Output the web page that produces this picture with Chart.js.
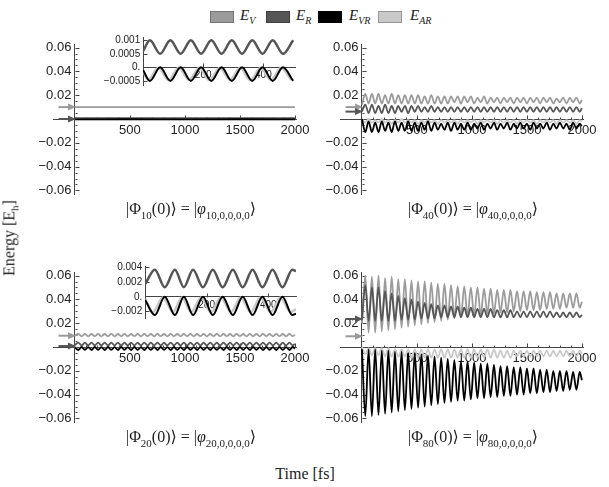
<!DOCTYPE html>
<html>
<head>
<meta charset="utf-8">
<script src="https://cdn.jsdelivr.net/npm/chart.js@4.4.1/dist/chart.umd.min.js"></script>
<style>
  body { margin: 0; background: #fff; }
  #page { position: relative; width: 609px; height: 487px; overflow: hidden; font-family: "Liberation Serif", "DejaVu Serif", serif; color: #222; }
  canvas { position: absolute; }
  .sw { position: absolute; top: 11px; width: 24px; height: 12px; box-sizing: border-box; border: 1px solid rgba(0,0,0,0.25); }
  .lt { position: absolute; top: 8px; font-size: 15px; font-style: italic; line-height: 1; white-space: nowrap; }
  .lt sub { font-size: 10px; line-height: 1; }
  .cap { position: absolute; font-size: 16px; line-height: 1; white-space: nowrap; transform: translate(-50%, -50%); }
  .cap sub { font-size: 11px; line-height: 1; }
</style>
</head>
<body>
<div id="page">
  <div class="sw" style="left:210px;background:#9b9b9b"></div><div class="lt" style="left:240px">E<sub>V</sub></div>
  <div class="sw" style="left:266px;background:#555555"></div><div class="lt" style="left:296px">E<sub>R</sub></div>
  <div class="sw" style="left:318px;background:#000000"></div><div class="lt" style="left:349px">E<sub>VR</sub></div>
  <div class="sw" style="left:378px;background:#c9c9c9"></div><div class="lt" style="left:410px">E<sub>AR</sub></div>

  <canvas id="p10"></canvas>
  <canvas id="p40"></canvas>
  <canvas id="p20"></canvas>
  <canvas id="p80"></canvas>
  <canvas id="i10"></canvas>
  <canvas id="i20"></canvas>

  <div class="cap" style="left:191px;top:211px">|Φ<sub>10</sub>(0)⟩ = |<i>φ</i><sub>10,0,0,0,0</sub>⟩</div>
  <div class="cap" style="left:473px;top:211px">|Φ<sub>40</sub>(0)⟩ = |<i>φ</i><sub>40,0,0,0,0</sub>⟩</div>
  <div class="cap" style="left:191px;top:439px">|Φ<sub>20</sub>(0)⟩ = |<i>φ</i><sub>20,0,0,0,0</sub>⟩</div>
  <div class="cap" style="left:473px;top:439px">|Φ<sub>80</sub>(0)⟩ = |<i>φ</i><sub>80,0,0,0,0</sub>⟩</div>
  <div class="cap" style="left:11px;top:238px;transform:translate(-50%,-50%) rotate(-90deg)">Energy [E<sub>h</sub>]</div>
  <div class="cap" style="left:305px;top:474px">Time [fs]</div>
</div>
<script>
// time grid of the main panels (fs), one point per half period
const TIME = [0, 30, 60, 90, 120, 150, 180, 210, 240, 270,
  300, 330, 360, 390, 420, 450, 480, 510, 540, 570,
  600, 630, 660, 690, 720, 750, 780, 810, 840, 870,
  900, 930, 960, 990, 1020, 1050, 1080, 1110, 1140, 1170,
  1200, 1230, 1260, 1290, 1320, 1350, 1380, 1410, 1440, 1470,
  1500, 1530, 1560, 1590, 1620, 1650, 1680, 1710, 1740, 1770,
  1800, 1830, 1860, 1890, 1920, 1950, 1980, 2000];

// |Phi_10> : almost flat
const TIME_10 = [0, 500, 1000, 1500, 2000];
const EV_10  = [0.0100, 0.0099, 0.0100, 0.0099, 0.0100];
const ER_10  = [0.0007, 0.0008, 0.0007, 0.0008, 0.0007];
const EVR_10 = [-0.0003, -0.0002, -0.0003, -0.0002, -0.0003];
const EAR_10 = [-0.0003, -0.0003, -0.0002, -0.0003, -0.0003];

// |Phi_40>
const EV_40 = [0.012, 0.021, 0.013, 0.021, 0.013, 0.021, 0.013, 0.020, 0.013, 0.021,
  0.013, 0.020, 0.013, 0.020, 0.013, 0.020, 0.013, 0.020, 0.013, 0.019,
  0.013, 0.020, 0.013, 0.019, 0.013, 0.019, 0.013, 0.019, 0.014, 0.019,
  0.013, 0.019, 0.014, 0.019, 0.013, 0.018, 0.014, 0.019, 0.013, 0.018,
  0.014, 0.018, 0.013, 0.018, 0.014, 0.018, 0.013, 0.018, 0.014, 0.018,
  0.013, 0.018, 0.014, 0.018, 0.013, 0.018, 0.014, 0.018, 0.013, 0.017,
  0.014, 0.018, 0.013, 0.018, 0.014, 0.018, 0.013, 0.016];
const ER_40 = [0.0065, 0.012, 0.005, 0.012, 0.005, 0.011, 0.005, 0.012, 0.005, 0.011,
  0.005, 0.011, 0.006, 0.011, 0.005, 0.011, 0.006, 0.011, 0.006, 0.010,
  0.006, 0.011, 0.006, 0.010, 0.006, 0.010, 0.006, 0.010, 0.006, 0.010,
  0.006, 0.010, 0.006, 0.010, 0.006, 0.010, 0.006, 0.010, 0.006, 0.010,
  0.006, 0.010, 0.006, 0.010, 0.006, 0.010, 0.006, 0.010, 0.006, 0.010,
  0.006, 0.010, 0.006, 0.010, 0.006, 0.010, 0.006, 0.010, 0.006, 0.010,
  0.006, 0.010, 0.006, 0.010, 0.006, 0.010, 0.006, 0.009];
const EVR_40 = [0.000, -0.011, -0.002, -0.011, -0.003, -0.011, -0.002, -0.010, -0.003, -0.011,
  -0.002, -0.010, -0.003, -0.010, -0.002, -0.010, -0.003, -0.010, -0.003, -0.009,
  -0.002, -0.010, -0.003, -0.009, -0.004, -0.009, -0.003, -0.010, -0.003, -0.009,
  -0.004, -0.009, -0.003, -0.009, -0.004, -0.008, -0.003, -0.009, -0.004, -0.008,
  -0.003, -0.009, -0.004, -0.008, -0.003, -0.009, -0.004, -0.008, -0.003, -0.008,
  -0.004, -0.009, -0.003, -0.008, -0.004, -0.008, -0.003, -0.009, -0.004, -0.008,
  -0.003, -0.008, -0.004, -0.009, -0.003, -0.008, -0.004, -0.006];
const EAR_40 = [0.000, -0.003, 0.000, -0.003, -0.001, -0.003, 0.000, -0.003, -0.001, -0.004,
  -0.001, -0.003, 0.000, -0.003, -0.001, -0.003, -0.001, -0.004, -0.001, -0.003,
  -0.001, -0.003, -0.001, -0.004, -0.001, -0.003, -0.001, -0.003, -0.001, -0.004,
  -0.001, -0.003, -0.001, -0.003, -0.001, -0.004, -0.001, -0.003, -0.001, -0.003,
  -0.001, -0.004, -0.001, -0.003, -0.001, -0.003, -0.001, -0.004, -0.001, -0.003,
  -0.001, -0.003, -0.001, -0.004, -0.001, -0.003, -0.001, -0.003, -0.001, -0.004,
  -0.001, -0.003, -0.001, -0.003, -0.001, -0.004, -0.001, -0.002];

// |Phi_20>
const EV_20 = [0.0095, 0.0110, 0.0090, 0.0110, 0.0090, 0.0109, 0.0091, 0.0110, 0.0090, 0.0109,
  0.0091, 0.0110, 0.0090, 0.0109, 0.0091, 0.0110, 0.0090, 0.0109, 0.0091, 0.0110,
  0.0090, 0.0110, 0.0091, 0.0109, 0.0090, 0.0110, 0.0091, 0.0109, 0.0090, 0.0110,
  0.0091, 0.0109, 0.0090, 0.0110, 0.0091, 0.0110, 0.0090, 0.0109, 0.0091, 0.0110,
  0.0090, 0.0109, 0.0091, 0.0110, 0.0090, 0.0110, 0.0091, 0.0109, 0.0090, 0.0110,
  0.0091, 0.0109, 0.0090, 0.0110, 0.0091, 0.0109, 0.0090, 0.0110, 0.0091, 0.0109,
  0.0090, 0.0110, 0.0091, 0.0109, 0.0090, 0.0110, 0.0091, 0.0102];
const ER_20 = [0.0017, 0.0037, 0.0013, 0.0036, 0.0013, 0.0037, 0.0014, 0.0036, 0.0013, 0.0037,
  0.0013, 0.0036, 0.0014, 0.0037, 0.0013, 0.0036, 0.0013, 0.0037, 0.0014, 0.0036,
  0.0013, 0.0037, 0.0013, 0.0036, 0.0014, 0.0037, 0.0013, 0.0036, 0.0013, 0.0037,
  0.0014, 0.0036, 0.0013, 0.0037, 0.0013, 0.0036, 0.0014, 0.0037, 0.0013, 0.0036,
  0.0013, 0.0037, 0.0014, 0.0036, 0.0013, 0.0037, 0.0013, 0.0036, 0.0014, 0.0037,
  0.0013, 0.0036, 0.0013, 0.0037, 0.0014, 0.0036, 0.0013, 0.0037, 0.0013, 0.0036,
  0.0014, 0.0037, 0.0013, 0.0036, 0.0013, 0.0037, 0.0014, 0.0025];
const EVR_20 = [-0.0004, -0.0025, 0.0000, -0.0024, -0.0001, -0.0025, 0.0000, -0.0024, -0.0001, -0.0025,
  0.0000, -0.0024, -0.0001, -0.0025, 0.0000, -0.0024, -0.0001, -0.0025, 0.0000, -0.0024,
  -0.0001, -0.0025, 0.0000, -0.0024, -0.0001, -0.0025, 0.0000, -0.0024, -0.0001, -0.0025,
  0.0000, -0.0024, -0.0001, -0.0025, 0.0000, -0.0024, -0.0001, -0.0025, 0.0000, -0.0024,
  -0.0001, -0.0025, 0.0000, -0.0024, -0.0001, -0.0025, 0.0000, -0.0024, -0.0001, -0.0025,
  0.0000, -0.0024, -0.0001, -0.0025, 0.0000, -0.0024, -0.0001, -0.0025, 0.0000, -0.0024,
  -0.0001, -0.0025, 0.0000, -0.0024, -0.0001, -0.0025, 0.0000, -0.0014];
const EAR_20 = [-0.0003, -0.0020, -0.0001, -0.0021, -0.0002, -0.0020, -0.0001, -0.0021, -0.0002, -0.0020,
  -0.0001, -0.0021, -0.0002, -0.0020, -0.0001, -0.0021, -0.0002, -0.0020, -0.0001, -0.0021,
  -0.0002, -0.0020, -0.0001, -0.0021, -0.0002, -0.0020, -0.0001, -0.0021, -0.0002, -0.0020,
  -0.0001, -0.0021, -0.0002, -0.0020, -0.0001, -0.0021, -0.0002, -0.0020, -0.0001, -0.0021,
  -0.0002, -0.0020, -0.0001, -0.0021, -0.0002, -0.0020, -0.0001, -0.0021, -0.0002, -0.0020,
  -0.0001, -0.0021, -0.0002, -0.0020, -0.0001, -0.0021, -0.0002, -0.0020, -0.0001, -0.0021,
  -0.0002, -0.0020, -0.0001, -0.0021, -0.0002, -0.0020, -0.0001, -0.0012];

// |Phi_80>
const EV_80 = [0.020, 0.060, 0.012, 0.059, 0.012, 0.060, 0.013, 0.058, 0.014, 0.059,
  0.015, 0.057, 0.016, 0.057, 0.017, 0.056, 0.018, 0.055, 0.019, 0.055,
  0.020, 0.054, 0.021, 0.053, 0.022, 0.053, 0.023, 0.052, 0.024, 0.051,
  0.025, 0.051, 0.026, 0.050, 0.026, 0.050, 0.027, 0.049, 0.028, 0.049,
  0.028, 0.048, 0.029, 0.048, 0.029, 0.048, 0.030, 0.047, 0.030, 0.047,
  0.031, 0.047, 0.031, 0.046, 0.031, 0.046, 0.032, 0.046, 0.032, 0.045,
  0.032, 0.045, 0.033, 0.045, 0.033, 0.045, 0.033, 0.038];
const ER_80 = [0.023, 0.052, 0.022, 0.050, 0.022, 0.050, 0.022, 0.047, 0.022, 0.045,
  0.022, 0.043, 0.023, 0.041, 0.023, 0.040, 0.023, 0.038, 0.024, 0.037,
  0.024, 0.036, 0.024, 0.035, 0.025, 0.035, 0.025, 0.034, 0.025, 0.034,
  0.025, 0.033, 0.025, 0.033, 0.025, 0.032, 0.025, 0.032, 0.025, 0.032,
  0.025, 0.031, 0.025, 0.031, 0.025, 0.031, 0.025, 0.030, 0.025, 0.030,
  0.025, 0.030, 0.025, 0.030, 0.025, 0.030, 0.025, 0.030, 0.025, 0.029,
  0.025, 0.029, 0.025, 0.029, 0.025, 0.029, 0.025, 0.027];
const EVR_80 = [-0.002, -0.058, -0.002, -0.058, -0.002, -0.057, -0.003, -0.056, -0.003, -0.055,
  -0.004, -0.054, -0.004, -0.053, -0.005, -0.052, -0.005, -0.051, -0.006, -0.050,
  -0.007, -0.049, -0.008, -0.048, -0.009, -0.047, -0.010, -0.046, -0.011, -0.045,
  -0.012, -0.045, -0.012, -0.044, -0.013, -0.043, -0.014, -0.043, -0.014, -0.042,
  -0.015, -0.042, -0.016, -0.041, -0.016, -0.041, -0.017, -0.040, -0.017, -0.040,
  -0.018, -0.039, -0.018, -0.039, -0.019, -0.038, -0.019, -0.038, -0.020, -0.037,
  -0.020, -0.037, -0.020, -0.036, -0.021, -0.036, -0.021, -0.028];
const EAR_80 = [0.000, -0.006, -0.001, -0.007, -0.001, -0.007, -0.001, -0.008, -0.001, -0.008,
  -0.002, -0.008, -0.002, -0.008, -0.002, -0.009, -0.002, -0.009, -0.002, -0.009,
  -0.002, -0.009, -0.002, -0.009, -0.002, -0.009, -0.002, -0.009, -0.002, -0.009,
  -0.002, -0.009, -0.002, -0.009, -0.002, -0.009, -0.002, -0.009, -0.002, -0.009,
  -0.002, -0.009, -0.003, -0.009, -0.003, -0.009, -0.003, -0.008, -0.003, -0.008,
  -0.003, -0.008, -0.003, -0.008, -0.003, -0.008, -0.003, -0.008, -0.003, -0.008,
  -0.003, -0.008, -0.003, -0.008, -0.003, -0.008, -0.003, -0.006];

// insets (first 500 fs)
const TIME_I10 = [0, 23, 57, 91, 125, 159, 193, 227, 261, 295, 329, 363, 397, 431, 465, 499];
const TIME_I10_AR = [0, 17, 51, 85, 119, 153, 187, 221, 255, 289, 323, 357, 391, 425, 459, 493];
const ER_I10  = [0.0006, 0.0010, 0.0005, 0.0010, 0.0005, 0.0010, 0.0005, 0.0010, 0.0005, 0.0010, 0.0005, 0.0010, 0.0005, 0.0010, 0.0005, 0.0010];
const EVR_I10 = [-0.0001, -0.0005, 0.0000, -0.0005, 0.0000, -0.0005, 0.0000, -0.0005, 0.0000, -0.0005, 0.0000, -0.0005, 0.0000, -0.0005, 0.0000, -0.0005];
const EAR_I10 = [-0.0001, -0.00046, -0.00002, -0.00047, -0.00002, -0.00046, -0.00002, -0.00047, -0.00002, -0.00046, -0.00002, -0.00047, -0.00002, -0.00046, -0.00002, -0.00047];

const TIME_I20 = [0, 32, 64, 97, 126, 156, 188, 220, 252, 285, 317, 349, 381, 414, 446, 478, 490];
const TIME_I20_AR = [0, 26, 58, 91, 120, 150, 182, 214, 246, 279, 311, 343, 375, 408, 440, 472, 490];
const ER_I20  = [0.0017, 0.0037, 0.0013, 0.0037, 0.0013, 0.0037, 0.0013, 0.0037, 0.0013, 0.0037, 0.0013, 0.0037, 0.0013, 0.0037, 0.0013, 0.0037, 0.0035];
const EVR_I20 = [-0.0004, -0.0025, 0.0000, -0.0025, 0.0000, -0.0025, 0.0000, -0.0025, 0.0000, -0.0025, 0.0000, -0.0025, 0.0000, -0.0025, 0.0000, -0.0025, -0.0023];
const EAR_I20 = [-0.0003, -0.0021, -0.0001, -0.0021, -0.0001, -0.0021, -0.0001, -0.0021, -0.0001, -0.0021, -0.0001, -0.0021, -0.0001, -0.0021, -0.0001, -0.0021, -0.0017];

// arrows on the left of each panel: [grey, dark]
const ARROWS_10 = [0.0100, 0.0000];
const ARROWS_40 = [0.0100, 0.0062];
const ARROWS_20 = [0.0095, 0.0008];
const ARROWS_80 = [0.0090, 0.0235];

// tick labels
const Y_MAJOR = [-0.06, -0.04, -0.02, 0.02, 0.04, 0.06];
const X_MAJOR = [500, 1000, 1500, 2000];
const Y_I10 = [-0.0005, 0, 0.0005, 0.001];
const Y_I10_TEXT = ['\u22120.0005', '0.', '0.0005', '0.001'];
const Y_I20 = [-0.002, 0, 0.002, 0.004];
const Y_I20_TEXT = ['\u22120.002', '0.', '0.002', '0.004'];
const X_INSET = [200, 400];

const GREY = '#9b9b9b', DARK = '#555555', BLACK = '#000000', LIGHT = '#c9c9c9';

Chart.defaults.font.family = '"Liberation Sans", Arial, sans-serif';
Chart.defaults.color = '#222';

function steps(from, to, step) {
  const out = [];
  for (let v = from; v <= to + step / 2; v += step) out.push(+v.toFixed(6));
  return out;
}
const near = (a, b) => Math.abs(a - b) < 1e-9;
// trailing space keeps the y labels off the axis line
const fmtMain = v => (v < 0 ? '\u2212' : '') + Math.abs(v).toFixed(2) + ' ';

// Mathematica-like inward tick marks on the crossing axes
const axisTicks = {
  id: 'axisTicks',
  beforeDatasetsDraw(chart, args, opts) {
    const { ctx, scales: { x, y } } = chart;
    const x0 = Math.round(x.getPixelForValue(0)) + 0.5;
    const y0 = Math.round(y.getPixelForValue(0)) + 0.5;
    ctx.save();
    ctx.strokeStyle = '#444';
    ctx.lineWidth = 1;
    ctx.beginPath();
    y.ticks.forEach(t => {
      if (near(t.value, 0)) return;
      const py = Math.round(y.getPixelForValue(t.value)) + 0.5;
      ctx.moveTo(x0, py);
      ctx.lineTo(x0 + (t.label ? opts.major : opts.minor), py);
    });
    x.ticks.forEach(t => {
      if (near(t.value, 0)) return;
      const px = Math.round(x.getPixelForValue(t.value)) + 0.5;
      ctx.moveTo(px, y0);
      ctx.lineTo(px, y0 - (t.label ? opts.major : opts.minor));
    });
    ctx.stroke();
    ctx.restore();
  }
};

const arrowMarks = {
  id: 'arrowMarks',
  afterDatasetsDraw(chart, args, opts) {
    if (!opts.values) return;
    const { ctx, scales: { x, y } } = chart;
    const xs = x.getPixelForValue(opts.from);
    const xe = x.getPixelForValue(0);
    opts.values.forEach((v, i) => {
      const py = y.getPixelForValue(v);
      ctx.save();
      ctx.strokeStyle = ctx.fillStyle = opts.colors[i];
      ctx.lineWidth = 2;
      ctx.beginPath();
      ctx.moveTo(xs, py);
      ctx.lineTo(xe - 6, py);
      ctx.stroke();
      ctx.beginPath();
      ctx.moveTo(xe + 1, py);
      ctx.lineTo(xe - 7, py - 3.5);
      ctx.lineTo(xe - 7, py + 3.5);
      ctx.closePath();
      ctx.fill();
      ctx.restore();
    });
  }
};

function line(label, times, values, color, width) {
  return {
    label,
    data: times.map((t, i) => ({ x: t, y: values[i] })),
    borderColor: color,
    borderWidth: width,
    pointRadius: 0,
    cubicInterpolationMode: 'monotone',
    fill: false
  };
}

function place(id, area, pad) {
  const c = document.getElementById(id);
  c.width = area.r - area.l + pad.left + pad.right;
  c.height = area.b - area.t + pad.top + pad.bottom;
  c.style.left = (area.l - pad.left) + 'px';
  c.style.top = (area.t - pad.top) + 'px';
  return c;
}

function panel(id, cfg) {
  const canvas = place(id, cfg.area, cfg.pad);
  return new Chart(canvas.getContext('2d'), {
    type: 'line',
    data: { datasets: cfg.datasets },
    options: {
      responsive: false,
      animation: false,
      devicePixelRatio: 1,
      layout: { padding: cfg.pad },
      plugins: {
        legend: { display: false },
        tooltip: { enabled: false },
        axisTicks: cfg.tickLen,
        arrowMarks: cfg.arrows || {}
      },
      scales: {
        x: {
          type: 'linear',
          min: cfg.xMin,
          max: cfg.xMax,
          position: { y: 0 },
          afterBuildTicks: s => { s.ticks = cfg.xTicks.map(v => ({ value: v })); },
          ticks: {
            autoSkip: false, minRotation: 0, maxRotation: 0, padding: cfg.xPad,
            font: { size: cfg.font },
            callback: cfg.xText
          },
          grid: { drawOnChartArea: false, drawTicks: false },
          border: { color: '#444', width: 1 }
        },
        y: {
          type: 'linear',
          min: cfg.yMin,
          max: cfg.yMax,
          position: { x: 0 },
          afterBuildTicks: s => { s.ticks = cfg.yTicks.map(v => ({ value: v })); },
          ticks: {
            autoSkip: false, padding: 4,
            font: { size: cfg.font },
            callback: cfg.yText
          },
          grid: { drawOnChartArea: false, drawTicks: false },
          border: { color: '#444', width: 1 }
        }
      }
    },
    plugins: [axisTicks, arrowMarks]
  });
}

function mainPanel(id, area, times, ev, er, evr, ear, arrows) {
  return panel(id, {
    area,
    pad: { left: 45, right: 20, top: 12, bottom: 12 },
    xMin: -200, xMax: 2010, yMin: -0.063, yMax: 0.063,
    xTicks: steps(0, 2000, 100),
    yTicks: steps(-0.06, 0.06, 0.005),
    xText: v => (X_MAJOR.some(m => near(m, v)) ? String(v) : ''),
    yText: v => (Y_MAJOR.some(m => near(m, v)) ? fmtMain(v) : ''),
    xPad: 4, font: 13,
    tickLen: { major: 4, minor: 2 },
    arrows: { values: arrows, colors: [GREY, DARK], from: -150 },
    datasets: [
      line('E_VR', times, evr, BLACK, 1.8),
      line('E_R', times, er, DARK, 1.8),
      line('E_V', times, ev, GREY, 1.8),
      line('E_AR', times, ear, LIGHT, 1.8)
    ]
  });
}

function insetPanel(id, area, xMax, yMin, yMax, yVals, yTexts, times, timesAR, er, evr, ear) {
  return panel(id, {
    area,
    pad: { left: 50, right: 8, top: 10, bottom: 10 },
    xMin: 0, xMax, yMin, yMax,
    xTicks: X_INSET,
    yTicks: yVals,
    xText: v => String(v),
    yText: (v, i) => yTexts[i] + ' ',
    xPad: 2, font: 10,
    tickLen: { major: 4, minor: 2 },
    datasets: [
      line('E_R', times, er, DARK, 2.5),
      line('E_VR', times, evr, BLACK, 2),
      line('E_AR', timesAR, ear, LIGHT, 2.6)
    ]
  });
}

mainPanel('p10', { l: 53, r: 296, t: 44, b: 194 }, TIME_10, EV_10, ER_10, EVR_10, EAR_10, ARROWS_10);
mainPanel('p40', { l: 340, r: 583, t: 44, b: 194 }, TIME, EV_40, ER_40, EVR_40, EAR_40, ARROWS_40);
mainPanel('p20', { l: 53, r: 296, t: 272, b: 422 }, TIME, EV_20, ER_20, EVR_20, EAR_20, ARROWS_20);
mainPanel('p80', { l: 340, r: 583, t: 272, b: 422 }, TIME, EV_80, ER_80, EVR_80, EAR_80, ARROWS_80);

insetPanel('i10', { l: 143, r: 295, t: 37, b: 85 }, 505, -0.00065, 0.00112, Y_I10, Y_I10_TEXT,
  TIME_I10, TIME_I10_AR, ER_I10, EVR_I10, EAR_I10);
insetPanel('i20', { l: 145, r: 296, t: 266, b: 318 }, 490, -0.0029, 0.0042, Y_I20, Y_I20_TEXT,
  TIME_I20, TIME_I20_AR, ER_I20, EVR_I20, EAR_I20);
</script>
</body>
</html>
